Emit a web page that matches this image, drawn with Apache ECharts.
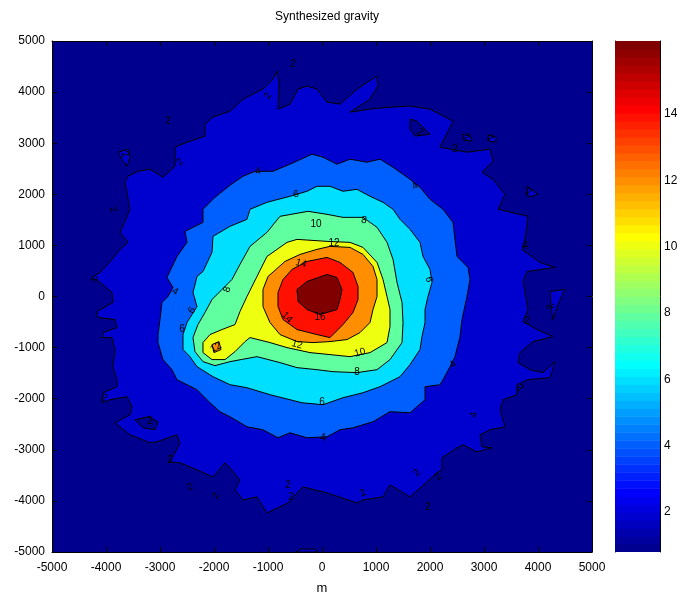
<!DOCTYPE html>
<html>
<head>
<meta charset="utf-8">
<script src="https://cdn.jsdelivr.net/npm/echarts@6/dist/echarts.min.js"></script>
<style>
  html, body { margin: 0; padding: 0; background: #ffffff; }
  #chart { width: 682px; height: 596px; }
</style>
</head>
<body>
<div id="chart"></div>
<script>
// ---- axis / colour scale ----
const axisMin = -5000;
const axisMax = 5000;
const axisStep = 1000;
const colorRange = [0.8, 16.2];
const colorbarTicks = [2, 4, 6, 8, 10, 12, 14];

// ---- filled contour boundaries, [x (m), y (m)] ----
const contour2 = [[-3556,1706],[-3648,2236],[-3593,2353],[-3408,2451],[-3185,2490],[-2945,2334],[-2722,2549],[-2722,2922],[-2500,3020],[-2167,3138],[-2167,3373],[-2019,3510],[-1704,3628],[-1463,3863],[-1093,4059],[-907,4255],[-833,4412],[-796,4157],[-815,3667],[-593,3765],[-444,4059],[-278,4118],[-93,4059],[93,3804],[333,3765],[648,4059],[1019,4314],[1037,4118],[889,3863],[519,3608],[889,3667],[1259,3706],[1630,3726],[2000,3667],[2426,3432],[2185,2922],[2685,2824],[3111,2883],[3167,2647],[2963,2432],[3167,2294],[3389,2000],[3260,1706],[3815,1569],[3760,1118],[3704,922],[4037,667],[4315,569],[3797,490],[3723,294],[3760,98],[3815,-255],[3723,-490],[3982,-647],[4278,-784],[3908,-882],[3667,-1098],[3630,-1294],[3852,-1432],[4093,-1490],[4315,-1275],[4223,-1588],[3815,-1628],[3611,-1726],[3611,-1922],[3352,-2020],[3297,-2216],[3389,-2549],[3111,-2608],[2926,-2706],[2963,-2942],[3148,-2961],[2871,-3040],[2611,-2902],[2500,-2961],[2222,-3157],[2222,-3393],[2130,-3451],[1630,-3922],[1259,-3687],[1130,-3922],[759,-3981],[648,-4040],[93,-3844],[-352,-3726],[-463,-3844],[-630,-4040],[-1019,-4236],[-1204,-3922],[-1463,-3981],[-1611,-3785],[-1519,-3589],[-1704,-3353],[-1796,-3255],[-2019,-3530],[-2315,-3393],[-2630,-3255],[-2815,-3236],[-2722,-3059],[-2630,-2863],[-2685,-2706],[-3056,-2843],[-3185,-2863],[-3556,-2706],[-3834,-2471],[-3556,-2314],[-3519,-2157],[-3611,-1961],[-3926,-2020],[-4074,-2079],[-4056,-1883],[-3797,-1765],[-3797,-1628],[-3871,-1373],[-3834,-1039],[-3889,-804],[-4074,-804],[-4056,-706],[-3797,-608],[-3834,-451],[-4148,-412],[-4167,-294],[-3871,-118],[-3889,78],[-4111,275],[-4260,373],[-4111,471],[-3889,726],[-3741,922],[-3593,1059],[-3741,1255],[-3648,1471]];

const islands2 = [
  [[-3778,2824],[-3593,2883],[-3556,2726],[-3611,2549],[-3704,2687]],
  [[3797,2157],[4000,2000],[3815,1941]],
  [[4223,98],[4500,137],[4352,-196],[4278,-451],[4241,-196]],
  [[2593,3177],[2741,3138],[2778,3040],[2630,3059]],
  [[3074,3157],[3222,3118],[3222,3020],[3093,3040]],
  [[-481,-5000],[-407,-4942],[-130,-4942],[-74,-5000]]
];

const holes2 = [
  [[-3463,-2412],[-3222,-2353],[-3037,-2451],[-3093,-2608],[-3315,-2569]],
  [[1630,3471],[1759,3432],[2000,3177],[1722,3138],[1630,3275]]
];

const contour4 = [[-2204,1706],[-1982,1941],[-1704,2177],[-1463,2353],[-1241,2451],[-907,2451],[-593,2589],[-185,2785],[19,2726],[278,2589],[519,2687],[833,2628],[1074,2687],[1315,2530],[1630,2294],[1815,2137],[2000,1902],[2241,1706],[2426,1451],[2500,784],[2704,569],[2741,333],[2685,0],[2593,-451],[2556,-784],[2463,-1177],[2371,-1373],[2241,-1628],[2185,-1726],[1908,-1765],[1908,-2020],[1630,-2275],[1259,-2255],[945,-2451],[574,-2569],[333,-2608],[93,-2745],[-278,-2765],[-593,-2667],[-815,-2765],[-1093,-2608],[-1389,-2549],[-1704,-2353],[-1889,-2255],[-2074,-2079],[-2315,-1824],[-2500,-1726],[-2685,-1628],[-2778,-1432],[-2945,-1235],[-3037,-902],[-3037,-745],[-3000,-451],[-2963,-118],[-2852,0],[-2759,176],[-2871,373],[-2685,784],[-2500,1059],[-2537,1275],[-2204,1451]];

const contour6 = [[-1333,1706],[-1019,1843],[-593,1961],[-278,2059],[-93,2157],[148,2157],[389,2059],[648,2098],[889,1961],[1130,1843],[1315,1706],[1445,1510],[1630,1314],[1815,1059],[1871,784],[2000,529],[2037,275],[1963,0],[1908,-255],[1908,-510],[1852,-784],[1815,-1039],[1630,-1333],[1445,-1569],[1074,-1765],[759,-1883],[389,-1981],[19,-2118],[-370,-2079],[-963,-1922],[-1389,-1785],[-1704,-1726],[-2019,-1569],[-2315,-1373],[-2445,-1177],[-2574,-1039],[-2574,-745],[-2500,-510],[-2315,-196],[-2389,78],[-2315,392],[-2204,490],[-2037,863],[-2019,1177],[-1704,1373],[-1389,1510]];

const contour8 = [[-778,1569],[-259,1667],[93,1608],[389,1549],[759,1549],[1019,1353],[1204,1059],[1315,726],[1389,275],[1482,-118],[1500,-510],[1482,-902],[1259,-1235],[1019,-1432],[648,-1490],[204,-1471],[-93,-1432],[-463,-1392],[-778,-1294],[-1204,-1177],[-1704,-1275],[-1982,-1353],[-2204,-1275],[-2352,-1079],[-2389,-804],[-2297,-549],[-2167,-314],[-2037,-59],[-1852,137],[-1667,333],[-1519,628],[-1333,981],[-1019,1255]];

const contour10 = [[-648,1059],[-463,1118],[93,1079],[519,1059],[759,961],[1019,667],[1130,333],[1204,0],[1259,-255],[1259,-588],[1204,-902],[889,-1098],[519,-1177],[148,-1137],[-222,-1098],[-648,-1000],[-963,-902],[-1333,-804],[-1426,-882],[-1611,-1079],[-1796,-1235],[-2037,-1235],[-2204,-1098],[-2204,-902],[-2074,-745],[-1852,-647],[-1611,-549],[-1519,-294],[-1389,0],[-1204,392],[-1019,784]];

const contour12 = [[-685,686],[-407,824],[-93,922],[148,981],[519,961],[759,824],[945,588],[1019,333],[1019,0],[945,-255],[889,-510],[704,-706],[463,-843],[148,-882],[-167,-902],[-463,-882],[-778,-745],[-963,-510],[-1093,-196],[-1093,137],[-1000,392]];

const islands12 = [
  [[-2037,-941],[-1908,-882],[-1870,-1039],[-2000,-1098]]
];

const contour14 = [[-556,529],[-278,686],[93,765],[333,667],[574,471],[667,196],[667,-59],[574,-314],[389,-549],[148,-804],[-93,-745],[-463,-647],[-722,-451],[-815,-196],[-815,78],[-722,333]];

const contour16 = [[-463,137],[-278,294],[93,431],[278,373],[370,137],[333,-59],[278,-255],[-37,-353],[-278,-255],[-444,-98]];

// ---- contour labels: [x (m), y (m), text] and their tilt in degrees ----
const contourLabels = [
  [-537,4549,'2'],[-1000,3922,'2'],[-2852,3432,'2'],[-3648,2785,'2'],[-2630,2628,'2'],
  [1815,3216,'2'],[2463,2883,'2'],[2685,3118,'2'],[3111,3098,'2'],[-1185,2451,'4'],
  [1722,2157,'4'],[-3871,1706,'2'],[-481,2000,'6'],[3815,2039,'2'],[778,1490,'8'],
  [-111,1412,'10'],[222,1039,'12'],[-4222,333,'2'],[-389,647,'14'],[1982,333,'6'],
  [-2722,98,'4'],[-1759,137,'8'],[3760,980,'4'],[-2408,-275,'6'],[-648,-412,'14'],
  [-37,-412,'16'],[4223,-196,'2'],[3797,-490,'2'],[-2593,-647,'6'],[-1963,-1000,'12'],
  [-463,-941,'12'],[704,-1098,'10'],[648,-1490,'8'],[2426,-1333,'4'],[0,-2079,'6'],
  [3667,-1785,'2'],[19,-2765,'4'],[2815,-2314,'4'],[-4037,-1981,'2'],[-3185,-2451,'2'],
  [-2815,-3196,'2'],[-2445,-3726,'2'],[-1963,-3902,'2'],[-630,-3687,'2'],[-574,-3922,'2'],
  [759,-3844,'2'],[1759,-3451,'2'],[2148,-3530,'2'],[1963,-4118,'2']
];
const labelTilt = [0,60,0,-60,45,-30,0,-30,-30,15,35,-70,10,-30,-10,0,0,-60,-15,-80,
  -30,70,0,60,-45,0,-80,0,0,30,-15,15,0,45,0,-45,0,80,-30,0,0,30,60,0,0,30,45,45,0];

// ---- jet colormap (64 entries) ----
function jetU(k) { // k = 1..47
  if (k <= 16) return k / 16;
  if (k <= 31) return 1;
  return (48 - k) / 16;
}
function jetColor(i) { // i = 1..64
  const r = (i >= 25) ? jetU(i - 24) : 0;
  const g = (i >= 9 && i <= 55) ? jetU(i - 8) : 0;
  const b = (i <= 39) ? jetU(i + 8) : 0;
  const h = v => Math.round(Math.max(0, Math.min(1, v)) * 255).toString(16).padStart(2, '0');
  return '#' + h(r) + h(g) + h(b);
}
function colorIndex(v) {
  const t = (v - colorRange[0]) / (colorRange[1] - colorRange[0]);
  return Math.max(1, Math.min(64, Math.floor(t * 64) + 1));
}
const baseColor = jetColor(1);

// stacking order of filled regions
const layers = [];
layers.push({ pts: contour2, level: 2 });
islands2.forEach(p => layers.push({ pts: p, level: 2 }));
holes2.forEach(p => layers.push({ pts: p, level: null }));
layers.push({ pts: contour4, level: 4 });
layers.push({ pts: contour6, level: 6 });
layers.push({ pts: contour8, level: 8 });
layers.push({ pts: contour10, level: 10 });
layers.push({ pts: contour12, level: 12 });
islands12.forEach(p => layers.push({ pts: p, level: 12 }));
layers.push({ pts: contour14, level: 14 });
layers.push({ pts: contour16, level: 16 });

const FONT = "'Liberation Sans Narrow','Liberation Sans',Arial,sans-serif";
const black = '#000000';

const colorbarData = [];
for (let i = 1; i <= 64; i++) colorbarData.push([0.5, colorRange[0] + (i - 0.5) * (colorRange[1] - colorRange[0]) / 64, i]);

const chart = echarts.init(document.getElementById('chart'), null, { renderer: 'canvas' });

const plainNumber = v => String(v);

const boxAxis = (pos, showLabel, extra) => Object.assign({
  type: 'value', min: axisMin, max: axisMax, interval: axisStep, position: pos,
  axisLine: { show: true, onZero: false, lineStyle: { color: black, width: 1 } },
  axisTick: { show: true, inside: true, length: 5, lineStyle: { color: black, width: 1 } },
  axisLabel: { show: showLabel, color: black, fontSize: 12, fontFamily: FONT,
    margin: (pos === 'bottom') ? 10 : 7, formatter: plainNumber },
  splitLine: { show: false }
}, extra || {});

chart.setOption({
  animation: false,
  backgroundColor: '#ffffff',
  title: {
    text: 'Synthesized gravity', left: 322, top: 6, textAlign: 'center',
    textStyle: { fontSize: 12, fontWeight: 'normal', fontFamily: FONT, color: black }
  },
  grid: [
    { left: 52, right: 90, top: 41, bottom: 44, show: true, backgroundColor: baseColor, borderWidth: 0,
      containLabel: false, outerBoundsMode: 'none' },
    { left: 615, right: 22, top: 41, bottom: 44, show: false, containLabel: false, outerBoundsMode: 'none' }
  ],
  xAxis: [
    boxAxis('bottom', true, { gridIndex: 0, name: 'm', nameLocation: 'middle', nameGap: 30,
      nameTextStyle: { color: black, fontSize: 13, fontFamily: FONT } }),
    boxAxis('top', false, { gridIndex: 0 }),
    { type: 'value', gridIndex: 1, min: 0, max: 1, show: false }
  ],
  yAxis: [
    boxAxis('left', true, { gridIndex: 0 }),
    boxAxis('right', false, { gridIndex: 0 }),
    {
      type: 'value', gridIndex: 1, min: colorRange[0], max: colorRange[1], position: 'right',
      axisLine: { show: true, onZero: false, lineStyle: { color: black, width: 1 } },
      axisTick: { show: true, inside: true, length: 5, customValues: colorbarTicks, lineStyle: { color: black } },
      axisLabel: { show: true, customValues: colorbarTicks, color: black, fontSize: 12, fontFamily: FONT, margin: 4 },
      splitLine: { show: false }
    },
    {
      type: 'value', gridIndex: 1, min: colorRange[0], max: colorRange[1], position: 'left',
      axisLine: { show: true, onZero: false, lineStyle: { color: black, width: 1 } },
      axisTick: { show: true, inside: true, length: 5, customValues: colorbarTicks, lineStyle: { color: black } },
      axisLabel: { show: false },
      splitLine: { show: false }
    }
  ],
  series: [
    {
      type: 'custom', name: 'field', xAxisIndex: 0, yAxisIndex: 0, clip: true, silent: true,
      data: layers.map(l => l.pts[0]),
      renderItem: (params, api) => {
        const layer = layers[params.dataIndex];
        const pts = layer.pts.map(p => api.coord(p));
        const fill = layer.level === null ? baseColor : jetColor(colorIndex(layer.level));
        return {
          type: 'polygon',
          shape: { points: pts },
          style: { fill: fill, stroke: black, lineWidth: 1, lineJoin: 'round' }
        };
      }
    },
    {
      type: 'custom', name: 'labels', xAxisIndex: 0, yAxisIndex: 0, clip: true, silent: true, z: 5,
      data: contourLabels.map(l => [l[0], l[1]]),
      renderItem: (params, api) => {
        const l = contourLabels[params.dataIndex];
        const p = api.coord([l[0], l[1]]);
        return {
          type: 'text', x: p[0], y: p[1], rotation: labelTilt[params.dataIndex] * Math.PI / 180,
          style: { text: l[2], fill: black, font: '10px ' + FONT, align: 'center', verticalAlign: 'middle' }
        };
      }
    },
    {
      type: 'custom', name: 'colorbar', xAxisIndex: 2, yAxisIndex: 2, clip: true, silent: true,
      data: colorbarData,
      renderItem: (params, api) => {
        const i = colorbarData[params.dataIndex][2];
        const step = (colorRange[1] - colorRange[0]) / 64;
        const lo = colorRange[0] + (i - 1) * step;
        const a = api.coord([0, lo + step]);
        const b = api.coord([1, lo]);
        return {
          type: 'rect',
          shape: { x: a[0], y: a[1], width: b[0] - a[0], height: b[1] - a[1] + 0.6 },
          style: { fill: jetColor(i) }
        };
      }
    }
  ]
});
</script>
</body>
</html>
